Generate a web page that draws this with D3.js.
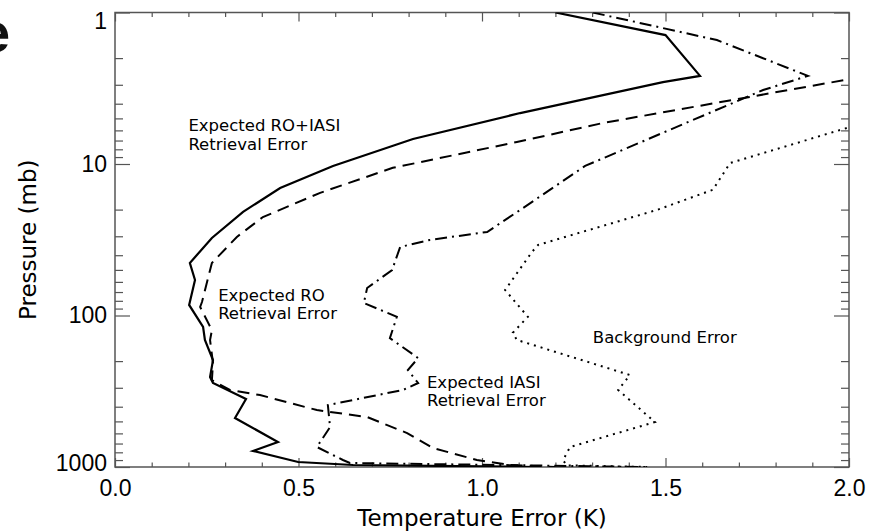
<!DOCTYPE html>
<html>
<head>
<meta charset="utf-8">
<script src="https://cdn.jsdelivr.net/npm/d3@7"></script>
<style>
  body { margin: 0; background: #fff; }
  svg { display: block; }
</style>
</head>
<body>
<div id="chart"></div>
<script>
// Temperature error profiles (K) against pressure (mb)
// Expected RO+IASI retrieval error (solid)
var roIasiP = [1, 1.41, 2.62, 2.88, 4.61, 6.84, 10.3, 14.4, 20.7, 30.8, 45, 58.3, 85.2, 119, 145, 197, 255, 279, 356, 475, 684, 784, 927, 970, 1000];
var roIasiT = [1.20, 1.50, 1.594, 1.493, 1.104, 0.812, 0.594, 0.450, 0.349, 0.264, 0.204, 0.218, 0.202, 0.240, 0.245, 0.267, 0.259, 0.267, 0.357, 0.327, 0.444, 0.376, 0.499, 0.649, 1.15];

// Expected RO retrieval error (dashed)
var roP = [2.05, 2.75, 5.36, 7.16, 10.6, 15.5, 22.4, 30.3, 45, 81.5, 87.9, 125, 145, 206, 267, 310, 335, 421, 468, 597, 749, 899, 970, 1000];
var roT = [2.29, 2.003, 1.330, 1.095, 0.757, 0.559, 0.403, 0.332, 0.264, 0.237, 0.232, 0.264, 0.259, 0.267, 0.264, 0.313, 0.395, 0.550, 0.687, 0.796, 0.866, 0.986, 1.076, 1.20];

// Expected IASI retrieval error (dash-dot)
var iasiP = [1, 1.52, 2.62, 3.25, 10.3, 20.1, 28.1, 31.7, 35.3, 50.1, 65.9, 82.7, 102, 141, 191, 229, 279, 310, 390, 545, 738, 899, 941, 1000];
var iasiT = [1.302, 1.640, 1.888, 1.766, 1.281, 1.104, 1.014, 0.858, 0.777, 0.755, 0.687, 0.678, 0.768, 0.749, 0.826, 0.798, 0.826, 0.785, 0.580, 0.586, 0.550, 0.621, 0.640, 1.45];

// Background error (dotted)
var bgP = [3.8, 5.7, 9.85, 14.8, 20.1, 34.2, 38.1, 67.9, 102, 130, 145, 247, 310, 505, 738, 899, 975, 1000];
var bgT = [2.25, 2.003, 1.676, 1.629, 1.477, 1.153, 1.136, 1.063, 1.125, 1.084, 1.095, 1.403, 1.371, 1.471, 1.240, 1.221, 1.23, 1.45];

// Axis ticks
var pressureTicks = [1, 10, 100, 1000];
var tempTicks = [0.0, 0.5, 1.0, 1.5, 2.0];

// Curve labels: text lines, anchor temperature / pressure (first baseline)
var curveLabels = [
  {lines: ["Expected RO+IASI", "Retrieval Error"], t: 0.20, p: 6.06},
  {lines: ["Expected RO", "Retrieval Error"], t: 0.281, p: 80},
  {lines: ["Expected IASI", "Retrieval Error"], t: 0.85, p: 300},
  {lines: ["Background Error"], t: 1.302, p: 152}
];

// Define SVG area dimensions
var svgWidth = 870;
var svgHeight = 531;

var margin = {
  top: 12.5,
  right: 21,
  bottom: 64,
  left: 115
};

var chartWidth = svgWidth - margin.left - margin.right;
var chartHeight = svgHeight - margin.top - margin.bottom;

var axisColor = "#555";

var svg = d3.select("#chart")
  .append("svg")
  .attr("width", svgWidth)
  .attr("height", svgHeight);

// cropped slide letter in the corner
svg.append("text")
  .attr("x", -21)
  .attr("y", 52)
  .attr("font-family", "Liberation Sans, Arial, sans-serif")
  .attr("font-weight", "bold")
  .attr("font-size", 56)
  .attr("fill", "#111")
  .text("e");

var chartGroup = svg.append("g")
  .attr("transform", `translate(${margin.left}, ${margin.top})`);

// scales
var xScale = d3.scaleLinear()
  .domain([0, 2])
  .range([0, chartWidth]);

var yScale = d3.scaleLog()
  .domain([1, 1000])
  .range([0, chartHeight]);

// minor tick values
var minorP = [];
[1, 10, 100].forEach(function(dec) {
  for (var k = 2; k <= 9; k++) minorP.push(dec * k);
});
var minorT = d3.range(0, 21).map(d => d / 10).filter(d => Math.abs(d * 2 - Math.round(d * 2)) > 1e-6);

var xMajLen = 9, xMinLen = 4.5, yMajLen = 15, yMinLen = 8;

function styleAxis(g) {
  g.select(".domain").remove();
  g.selectAll(".tick line").attr("stroke", axisColor).attr("stroke-width", 1.2);
  g.selectAll(".tick text")
    .attr("fill", "#000")
    .attr("font-family", "Liberation Sans, Arial, sans-serif")
    .attr("font-size", 23);
}

// bottom axis (labels)
chartGroup.append("g")
  .attr("transform", `translate(0, ${chartHeight})`)
  .call(d3.axisBottom(xScale).tickValues(tempTicks).tickSize(-xMajLen).tickPadding(13).tickFormat(d3.format(".1f")))
  .call(styleAxis);
chartGroup.append("g")
  .attr("transform", `translate(0, ${chartHeight})`)
  .call(d3.axisBottom(xScale).tickValues(minorT).tickSize(-xMinLen).tickFormat(""))
  .call(styleAxis);

// top axis
chartGroup.append("g")
  .call(d3.axisTop(xScale).tickValues(tempTicks).tickSize(-xMajLen).tickFormat(""))
  .call(styleAxis);
chartGroup.append("g")
  .call(d3.axisTop(xScale).tickValues(minorT).tickSize(-xMinLen).tickFormat(""))
  .call(styleAxis);

// left axis (labels)
var leftAxis = chartGroup.append("g")
  .call(d3.axisLeft(yScale).tickValues(pressureTicks).tickSize(-yMajLen).tickPadding(8).tickFormat(d3.format("d")))
  .call(styleAxis);
// nudge the end labels the way the original plot sits them
leftAxis.selectAll(".tick text")
  .attr("y", d => d === 1 ? 9 : (d === 1000 ? -4 : 0));
chartGroup.append("g")
  .call(d3.axisLeft(yScale).tickValues(minorP).tickSize(-yMinLen).tickFormat(""))
  .call(styleAxis);

// right axis
chartGroup.append("g")
  .attr("transform", `translate(${chartWidth}, 0)`)
  .call(d3.axisRight(yScale).tickValues(pressureTicks).tickSize(-yMajLen).tickFormat(""))
  .call(styleAxis);
chartGroup.append("g")
  .attr("transform", `translate(${chartWidth}, 0)`)
  .call(d3.axisRight(yScale).tickValues(minorP).tickSize(-yMinLen).tickFormat(""))
  .call(styleAxis);

// plot frame
chartGroup.append("rect")
  .attr("width", chartWidth)
  .attr("height", chartHeight)
  .attr("fill", "none")
  .attr("stroke", axisColor)
  .attr("stroke-width", 1.5);

// clip lines to plot area
chartGroup.append("clipPath")
  .attr("id", "plot-clip")
  .append("rect")
  .attr("width", chartWidth)
  .attr("height", chartHeight);

var line = d3.line()
  .x(d => xScale(d.t))
  .y(d => yScale(d.p));

var series = [
  {p: roIasiP, t: roIasiT, dash: null, w: 2.2},
  {p: roP, t: roT, dash: "12,7", w: 2},
  {p: iasiP, t: iasiT, dash: "12,5,2,5", w: 2},
  {p: bgP, t: bgT, dash: "2,5", w: 2}
];

chartGroup.append("g")
  .attr("clip-path", "url(#plot-clip)")
  .selectAll("path")
  .data(series)
  .enter()
  .append("path")
  .attr("d", s => line(s.p.map((p, i) => ({p: p, t: s.t[i]}))))
  .attr("fill", "none")
  .attr("stroke", "#000")
  .attr("stroke-width", s => s.w)
  .attr("stroke-dasharray", s => s.dash)
  .attr("stroke-linejoin", "miter");

// curve labels, one text element per line
var labelGroup = chartGroup.append("g")
  .attr("font-family", "DejaVu Sans, sans-serif")
  .attr("font-size", 16.5)
  .attr("fill", "#000");

curveLabels.forEach(function(d) {
  d.lines.forEach(function(l, i) {
    labelGroup.append("text")
      .attr("x", xScale(d.t))
      .attr("y", yScale(d.p) + i * 18.5)
      .text(l);
  });
});

// axis titles
chartGroup.append("text")
  .attr("x", chartWidth / 2)
  .attr("y", chartHeight + 59)
  .attr("text-anchor", "middle")
  .attr("font-family", "DejaVu Sans, sans-serif")
  .attr("font-size", 23)
  .text("Temperature Error (K)");

chartGroup.append("text")
  .attr("transform", "rotate(-90)")
  .attr("x", -(chartHeight / 2))
  .attr("y", -margin.left + 36)
  .attr("text-anchor", "middle")
  .attr("font-family", "DejaVu Sans, sans-serif")
  .attr("font-size", 23)
  .text("Pressure (mb)");
</script>
</body>
</html>
